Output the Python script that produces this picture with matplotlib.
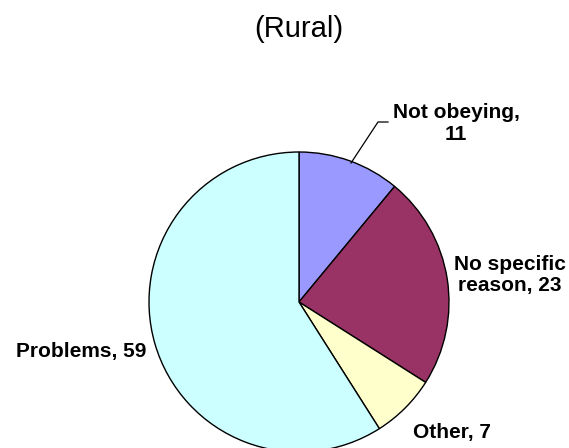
import matplotlib
matplotlib.use("Agg")
import matplotlib.pyplot as plt

plt.rcParams['font.family'] = ['Liberation Sans', 'DejaVu Sans']

title = "(Rural)"
categories = ["Not obeying", "No specific\nreason", "Other", "Problems"]
values = [11, 23, 7, 59]
colors = ["#9999FF", "#993366", "#FFFFCC", "#CCFFFF"]

W, H = 569, 448
fig = plt.figure(figsize=(W / 100, H / 100), dpi=100)
ax = fig.add_axes([0, 0, 1, 1])

cx, cy, r = 299, H - 302, 150
wedges, _ = ax.pie(values, colors=colors, startangle=90, counterclock=False,
                   center=(cx, cy), radius=r,
                   wedgeprops=dict(edgecolor="black", linewidth=1.0))
ax.set_xlim(0, W)
ax.set_ylim(0, H)
ax.set_aspect("equal")
ax.axis("off")

# label placement (pixel coords, y measured from top)
label_pos = [(456, 123), (510, 275), (452, 432), (81, 351)]
label_fmt = ["{},\n{}", "{}, {}", "{}, {}", "{}, {}"]
for cat, val, (lx, ly), fmt in zip(categories, values, label_pos, label_fmt):
    ax.text(lx, H - ly, fmt.format(cat, val), ha="center", va="center",
            fontsize=15, fontweight="bold", linespacing=1.2)

# leader line for the small top slice
ax.plot([351, 378, 388], [H - 163, H - 122, H - 122], color="black", lw=0.9)

ax.text(299, H - 29, title, ha="center", va="center", fontsize=21)

fig.savefig("out.png", dpi=100)
